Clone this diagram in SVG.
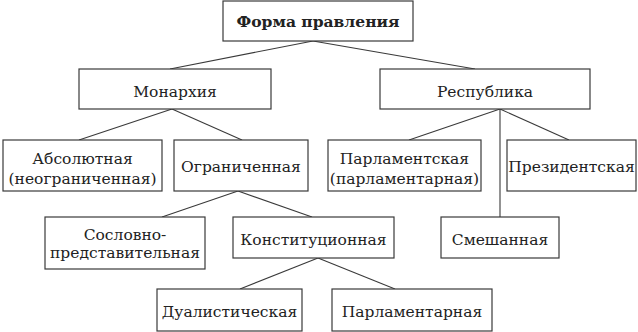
<svg xmlns="http://www.w3.org/2000/svg" width="638" height="332" viewBox="0 0 638 332">
<style>
.box{fill:#fff;stroke:#3a3a3a;stroke-width:1.2}
.t{font-family:"DejaVu Serif","Liberation Serif",serif;font-size:15.5px;fill:#222;text-anchor:middle}
.b{font-weight:bold}
.c line{stroke:#3a3a3a;stroke-width:1.1}
</style>
<rect width="638" height="332" fill="#fff"/>
<g class="c" id="connectors">
<line x1="313" y1="41" x2="170" y2="69"/>
<line x1="313" y1="41" x2="475" y2="69"/>
<line x1="172" y1="109" x2="79" y2="140"/>
<line x1="172" y1="109" x2="242" y2="140"/>
<line x1="500" y1="109" x2="409" y2="140"/>
<line x1="500" y1="109" x2="569" y2="140"/>
<line x1="500" y1="109" x2="500" y2="217"/>
<line x1="238" y1="191" x2="162" y2="217"/>
<line x1="238" y1="191" x2="312" y2="217"/>
<line x1="318" y1="258" x2="240" y2="289"/>
<line x1="318" y1="258" x2="395" y2="289"/>
</g>
<g id="n-forma"><rect class="box" x="223" y="1" width="190" height="40"/><text class="t b" x="318" y="27">Форма правления</text></g>
<g id="n-monarchy"><rect class="box" x="79" y="69" width="192" height="40"/><text class="t" x="175" y="97">Монархия</text></g>
<g id="n-republic"><rect class="box" x="380" y="69" width="210" height="40"/><text class="t" x="485" y="97">Республика</text></g>
<g id="n-absolute"><rect class="box" x="3" y="140" width="159" height="51"/><text class="t" x="82.5" y="164">Абсолютная</text><text class="t" x="82.5" y="184">(неограниченная)</text></g>
<g id="n-limited"><rect class="box" x="174" y="140" width="134" height="51"/><text class="t" x="241" y="172">Ограниченная</text></g>
<g id="n-parl"><rect class="box" x="328" y="140" width="153" height="51"/><text class="t" x="404.5" y="164">Парламентская</text><text class="t" x="404.5" y="184">(парламентарная)</text></g>
<g id="n-pres"><rect class="box" x="507" y="140" width="129" height="51"/><text class="t" x="571.5" y="172">Президентская</text></g>
<g id="n-soslov"><rect class="box" x="45" y="217" width="160" height="52"/><text class="t" x="125" y="240">Сословно-</text><text class="t" x="125" y="258">представительная</text></g>
<g id="n-const"><rect class="box" x="233" y="217" width="161" height="41"/><text class="t" x="313.5" y="245">Конституционная</text></g>
<g id="n-mixed"><rect class="box" x="441" y="217" width="118" height="41"/><text class="t" x="500" y="245">Смешанная</text></g>
<g id="n-dual"><rect class="box" x="157" y="289" width="145" height="42"/><text class="t" x="229.5" y="317">Дуалистическая</text></g>
<g id="n-parlam"><rect class="box" x="332" y="289" width="160" height="42"/><text class="t" x="412" y="317">Парламентарная</text></g>
</svg>
